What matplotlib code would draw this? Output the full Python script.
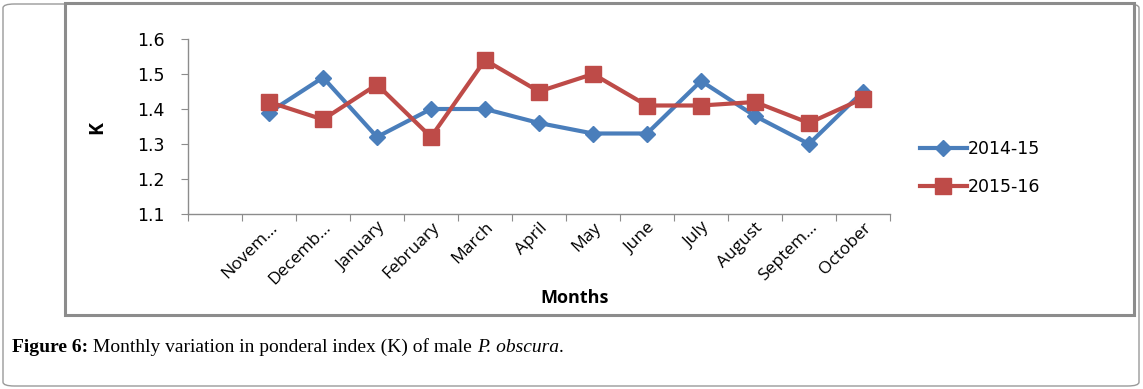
import matplotlib
matplotlib.use("Agg")
from matplotlib import pyplot as plt
from matplotlib.patches import FancyBboxPatch, Rectangle
import numpy as np

# first category is empty in the original chart
months = ["", "Novem...", "Decemb...", "January", "February", "March", "April",
          "May", "June", "July", "August", "Septem...", "October"]
k_2014 = [np.nan, 1.39, 1.49, 1.32, 1.40, 1.40, 1.36, 1.33, 1.33, 1.48, 1.38, 1.30, 1.45]
k_2015 = [np.nan, 1.42, 1.37, 1.47, 1.32, 1.54, 1.45, 1.50, 1.41, 1.41, 1.42, 1.36, 1.43]
series_labels = ["2014-15", "2015-16"]
yticks = [1.1, 1.2, 1.3, 1.4, 1.5, 1.6]

blue = "#4a7ebb"
red = "#be4b48"

W, H = 1143, 389
fig = plt.figure(figsize=(W / 100, H / 100), dpi=100)

# outer rounded frame
fig.patches.append(FancyBboxPatch((3 / W, 3 / H), (W - 7) / W, (H - 7) / H,
                                  boxstyle="round,pad=0,rounding_size=0.01",
                                  transform=fig.transFigure, fill=False,
                                  edgecolor="#9a9a9a", linewidth=1.0))
# chart area border
fig.patches.append(Rectangle((65 / W, (H - 315) / H), (1134 - 65) / W, (315 - 3) / H,
                             transform=fig.transFigure, fill=False,
                             edgecolor="#8c8c8c", linewidth=2.2))

ax = fig.add_axes([188 / W, 1 - 214 / H, (890 - 188) / W, (214 - 39) / H])
x = np.arange(len(months))
ax.plot(x + 0.5, k_2014, color=blue, lw=3, marker="D", ms=8,
        label=series_labels[0])
ax.plot(x + 0.5, k_2015, color=red, lw=3, marker="s", ms=11,
        label=series_labels[1])

ax.set_xlim(0, len(months))
ax.set_ylim(1.1, 1.6)
ax.set_yticks(yticks)
ax.set_yticklabels([f"{v:.1f}" for v in yticks], fontsize=12.5, family="DejaVu Sans")
ax.set_xticks(np.arange(len(months) + 1))
ax.set_xticklabels([])
ax.set_xticks(x + 0.5, minor=True)
ax.set_xticklabels(months, minor=True, rotation=45, ha="right", va="top",
                   rotation_mode="anchor", fontsize=12.5, family="Open Sans")
ax.tick_params(axis="x", which="minor", length=0, pad=4)
ax.tick_params(axis="x", which="major", length=5, color="#8c8c8c", direction="out")
ax.tick_params(axis="y", length=5, color="#8c8c8c", direction="out", pad=12)
for s in ["top", "right"]:
    ax.spines[s].set_visible(False)
for s in ["left", "bottom"]:
    ax.spines[s].set_color("#8c8c8c")
    ax.spines[s].set_linewidth(1.0)

fig.text(97 / W, 1 - 127 / H, "K", fontsize=14, fontweight="bold",
         family="Open Sans", rotation=90, ha="center", va="center")
fig.text(575 / W, 1 - 298 / H, "Months", fontsize=13, fontweight="bold",
         family="Open Sans", ha="center", va="center")

ax.legend(loc="center left", bbox_to_anchor=(904 / W, 1 - 168 / H),
          bbox_transform=fig.transFigure, frameon=False, fontsize=12.5,
          handlelength=2.7, labelspacing=1.2, handletextpad=0.05)

# caption built from pieces
fig.canvas.draw()
renderer = fig.canvas.get_renderer()
cx = 12 / W
cy = 1 - 347 / H
pieces = [("Figure 6:", "bold", "normal"),
          (" Monthly variation in ponderal index (K) of male ", "normal", "normal"),
          ("P. obscura", "normal", "italic"),
          (".", "normal", "normal")]
for txt, weight, style in pieces:
    t = fig.text(cx, cy, txt, fontsize=14, family="Liberation Serif",
                 fontweight=weight, fontstyle=style, ha="left", va="center")
    bb = t.get_window_extent(renderer)
    cx += bb.width / W

fig.savefig("out.png", dpi=100)
